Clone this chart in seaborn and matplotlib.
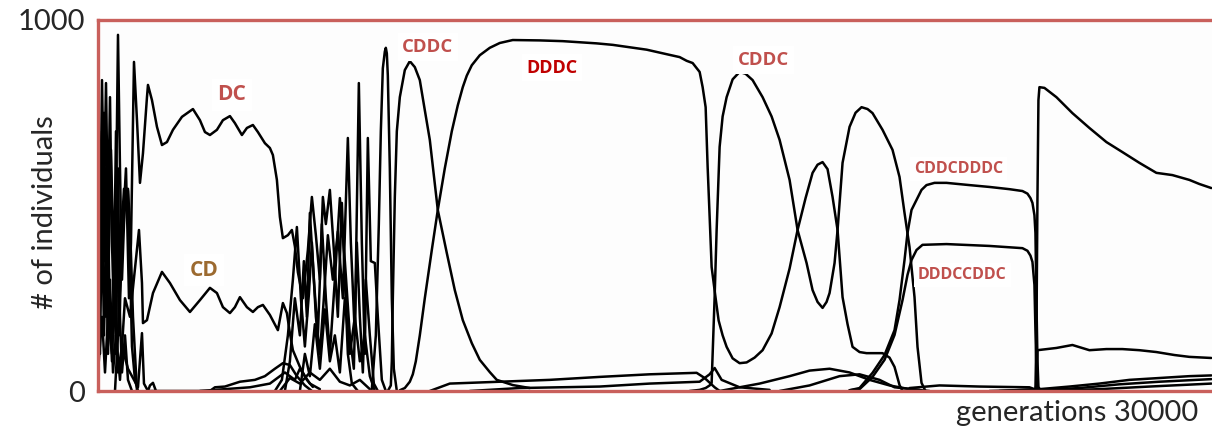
"""
Population dynamics of strategies over 30000 generations
(recreation of a scanned simulation plot)
"""

import numpy as np
import pandas as pd
import matplotlib
matplotlib.use("Agg")
import matplotlib.pyplot as plt
import seaborn as sns

# ============================================================================
# 1. DATA  (generations, number of individuals)
# ============================================================================

# --- early chaotic phase ----------------------------------------------------
dc_gen = [0, 54, 108, 162, 216, 270, 351, 432, 486, 567, 648, 756, 837, 891, 972, 1053, 1134, 1215,
          1323, 1350, 1458, 1593, 1728, 1863, 2025, 2268, 2565, 2754, 2889, 3024, 3213, 3375, 3564,
          3699, 3888, 4023, 4185, 4320, 4509, 4644, 4725, 4833, 4914, 4995, 5130, 5238, 5319, 5400,
          5535, 5670, 5778, 5886, 5994, 6075, 6156, 6264, 6372, 6480, 6588, 6669, 6750, 6858, 7020]
dc_val = [100, 500, 700, 350, 600, 250, 650, 300, 700, 150, 400, 600, 250, 400, 887, 730, 561, 641,
          792, 825, 784, 712, 663, 671, 704, 739, 760, 730, 698, 690, 704, 730, 741,
          722, 690, 709, 717, 698, 668, 655, 636, 569, 469, 412, 420, 434, 390, 320,
          250, 380, 523, 420, 300, 523, 450, 542, 380, 200, 507, 300, 100, 20, 0]

cd_gen = [0, 54, 108, 162, 216, 270, 324, 405, 486, 594, 729, 864, 999, 1107, 1188, 1215, 1323, 1485,
          1728, 1944, 2214, 2484, 2754, 3024, 3213, 3375, 3564, 3699, 3834, 4023, 4185, 4320, 4455,
          4644, 4860, 4995, 5103, 5184, 5265, 5454, 5643, 5805]
cd_val = [400, 100, 500, 150, 400, 100, 300, 50, 150, 30, 250, 200, 330, 434, 291, 183, 191, 264,
          321, 291, 245, 213, 245, 278, 264, 226, 210, 226, 253, 226, 213, 226, 232,
          205, 164, 237, 210, 156, 110, 65, 30, 11]

e1_gen = [0, 54, 108, 162, 216, 270, 324, 378, 432, 486, 540, 594, 648, 702, 756, 810, 864, 918, 999, 1080]
e1_val = [0, 400, 838, 500, 830, 450, 792, 400, 200, 500, 960, 600, 300, 450, 545, 545, 350, 120, 30, 0]

e2_gen = [0, 54, 108, 162, 216, 270, 324, 378, 432, 486, 540, 594, 648, 729, 810, 918]
e2_val = [200, 650, 300, 750, 200, 500, 150, 100, 300, 100, 600, 200, 50, 150, 30, 0]

e3_gen = [0, 108, 189, 297, 378, 459, 540, 648, 810, 1080, 1188, 1242, 1350, 1404, 1485, 1566]
e3_val = [50, 200, 50, 250, 80, 330, 50, 120, 60, 10, 156, 20, 0, 15, 22, 0]

e4_gen = [459, 567, 648, 702, 810, 864, 945, 1053]
e4_val = [0, 200, 450, 545, 540, 450, 200, 0]

# --- second chaotic phase ---------------------------------------------------
b_gen = [4779, 4968, 5130, 5265, 5373, 5481, 5589, 5697, 5778, 5886, 5994, 6102, 6210, 6345, 6480,
         6615, 6750, 6831, 6939, 7047, 7128, 7209, 7290, 7371, 7479, 7560, 7668, 7776]
b_val = [0, 30, 150, 300, 442, 250, 120, 260, 400, 200, 100, 250, 420, 300, 430,
         250, 682, 400, 150, 830, 400, 100, 682, 350, 345, 200, 30, 0]

c_gen = [5049, 5184, 5319, 5454, 5562, 5643, 5724, 5832, 5940, 6048, 6156, 6264, 6399, 6534, 6669,
         6804, 6912, 6993, 7074, 7155, 7236, 7344, 7452, 7560]
c_val = [0, 80, 250, 150, 350, 200, 480, 300, 150, 450, 250, 100, 300, 520, 350,
         150, 60, 400, 200, 50, 300, 150, 20, 0]

d_gen = [5454, 5589, 5724, 5859, 5994, 6129, 6264, 6399, 6534, 6669, 6804, 6939, 7074, 7209, 7344, 7479]
d_val = [0, 100, 40, 180, 60, 220, 80, 150, 50, 250, 100, 200, 80, 150, 40, 0]

spike_gen = [7398, 7506, 7587, 7641, 7695, 7749, 7776, 7803, 7830, 7884, 7938, 7992, 8073]
spike_val = [5, 150, 450, 700, 870, 915, 925, 910, 850, 600, 250, 60, 0]

# --- named strategies -------------------------------------------------------
cddc1_gen = [7830, 7911, 7938, 7965, 8019, 8073, 8154, 8289, 8424, 8559, 8694, 8829, 8964, 9180,
             9423, 9639, 9855, 10098, 10314, 10584, 10773, 11205, 11664]
cddc1_val = [0, 15, 80, 250, 523, 700, 792, 865, 889, 873, 838, 757, 677, 488,
             372, 272, 191, 129, 84, 51, 30, 16, 8]

dddc_gen = [8154, 8289, 8424, 8505, 8586, 8694, 8829, 9018, 9180, 9369, 9558, 9720, 9855, 9963,
            10098, 10314, 10584, 10854, 11205, 11934, 12555, 13473, 13905, 14823, 15444, 15714,
            15903, 16065, 16254, 16335, 16416, 16470, 16524, 16578, 16686, 16767, 16875, 16983,
            17145, 17334, 17523, 17739, 17955, 18198, 18414, 18684, 18900, 19116, 19305, 19440,
            19575, 19710, 19845, 19980, 20115, 20250, 20385, 20574, 20763, 20979, 21195, 21384,
            21519, 21654, 21735]
dddc_val = [2, 8, 25, 45, 80, 150, 250, 380, 488, 600, 700, 770, 819, 850,
            878, 905, 925, 938, 946, 945, 943, 937, 933, 920, 906, 900,
            890, 884, 860, 819, 765, 604, 470, 334, 250, 190, 150, 119,
            88, 75, 77, 90, 110, 155, 226, 330, 434, 520, 588, 610,
            617, 598, 523, 434, 253, 180, 119, 105, 102, 102, 102, 90,
            65, 16, 0]

cddc2_gen = [15984, 16254, 16416, 16524, 16578, 16659, 16713, 16794, 16875, 16983, 17145, 17334,
             17496, 17685, 17955, 18198, 18414, 18684, 18900, 19143, 19305, 19440, 19575, 19683,
             19764, 19899, 19980, 20115, 20304, 20466, 20628, 20790, 20925, 21195, 21465, 21654,
             21789, 21924, 22059, 22140, 22248, 22356]
cddc2_val = [0, 3, 8, 15, 22, 253, 434, 658, 740, 792, 840, 860,
             855, 838, 792, 740, 677, 569, 434, 345, 272, 240, 224, 240,
             264, 345, 434, 615, 712, 750, 765, 760, 749, 704, 650, 577,
             480, 388, 253, 119, 22, 0]

cddcdddc_gen = [20304, 20574, 20925, 21249, 21519, 21654, 21789, 21870, 21978, 22113, 22248, 22383,
                22599, 22923, 23544, 24084, 24624, 24975, 25110, 25191, 25245, 25299, 25326, 25353,
                25380, 25407, 25461]
cddcdddc_val = [2, 8, 49, 97, 164, 245, 353, 426, 488, 515, 542, 555,
                561, 561, 555, 550, 544, 539, 532, 520, 507, 474, 426, 245,
                84, 11, 2]

dddccddc_gen = [20304, 20574, 20925, 21249, 21519, 21735, 21870, 21978, 22113, 22275, 22923, 24084,
                24975, 25110, 25191, 25245, 25299, 25326, 25353, 25380, 25434]
dddccddc_val = [2, 5, 38, 84, 151, 245, 313, 353, 380, 394, 396, 391,
                385, 378, 365, 348, 286, 164, 57, 8, 0]

# --- final phase ------------------------------------------------------------
f1_gen = [24084, 25164, 25326, 25353, 25380, 25407, 25434, 25569, 25893, 26325, 26784, 27243,
          27675, 28134, 28593, 29025, 29484, 29754, 30078]
f1_val = [0, 3, 5, 150, 515, 784, 819, 817, 792, 749, 709, 671,
          644, 615, 588, 582, 569, 558, 547]

f2_gen = [24354, 25326, 25353, 25380, 25893, 26325, 26784, 27243, 27675, 28134, 28593, 29079, 29484, 30078]
f2_val = [0, 5, 16, 110, 116, 124, 110, 113, 113, 110, 105, 97, 92, 89]

# --- minor strategies near the floor ----------------------------------------
low_gen = {
    "la": [1404, 3024, 3159, 3429, 3834, 4239, 4509, 4779, 4995, 5184, 5373, 5589, 5778],
    "lb": [2754, 4104, 4644, 5049, 5319, 5454, 5724, 5994],
    "lc": [4914, 5184, 5454, 5724, 5994, 6264, 6534, 6804, 7074, 7344],
    "m1": [8964, 9504, 10854, 12204, 13554, 14904, 16173, 16389, 16659, 16794],
    "m2": [10044, 11394, 13554, 14904, 16254, 16524, 16659, 16848, 17334, 18144],
    "m3": [16794, 17874, 18684, 19224, 19764, 20304, 20844, 21384, 21924, 22464],
    "m4": [18414, 19224, 20034, 20574, 21114, 21519, 22194],
    "bb": [21924, 22734, 23814, 25164, 25434],
    "t1": [25434, 26244, 27054, 27864, 28674, 29484, 30078],
    "t2": [25434, 26514, 27594, 28674, 30078],
    "t3": [25704, 27054, 28404, 30078],
}
low_val = {
    "la": [0, 0, 10, 12, 25, 30, 40, 60, 75, 70, 40, 15, 0],
    "lb": [0, 10, 20, 50, 30, 60, 20, 5],
    "lc": [0, 35, 20, 50, 30, 60, 25, 15, 30, 5],
    "m1": [0, 20, 25, 30, 38, 45, 49, 35, 10, 0],
    "m2": [0, 8, 12, 20, 25, 45, 62, 30, 10, 3],
    "m3": [0, 20, 40, 55, 60, 50, 30, 15, 5, 0],
    "m4": [0, 15, 40, 45, 30, 10, 3],
    "bb": [8, 15, 12, 10, 0],
    "t1": [5, 12, 20, 30, 35, 40, 42],
    "t2": [2, 8, 18, 25, 32],
    "t3": [0, 5, 12, 20],
}

# labels: (text, generation, individuals, colour, size)
RED = "#c0504d"
labels = [
    ("DC", 3618, 798, RED, 15),
    ("CD", 2862, 326, "#9c6a30", 15),
    ("CDDC", 8910, 927, RED, 13.3),
    ("DDDC", 12258, 871, "#c00000", 13),
    ("CDDC", 17982, 892, RED, 13.3),
    ("CDDCDDDC", 23247, 598, RED, 11.5),
    ("DDDCCDDC", 23355, 313, RED, 11.5),
]

# ============================================================================
# 2. BUILD LONG TABLE
# ============================================================================

series = {
    "dc": (dc_gen, dc_val), "cd": (cd_gen, cd_val),
    "e1": (e1_gen, e1_val), "e2": (e2_gen, e2_val), "e3": (e3_gen, e3_val), "e4": (e4_gen, e4_val),
    "b": (b_gen, b_val), "c": (c_gen, c_val), "d": (d_gen, d_val), "spike": (spike_gen, spike_val),
    "cddc1": (cddc1_gen, cddc1_val), "dddc": (dddc_gen, dddc_val), "cddc2": (cddc2_gen, cddc2_val),
    "cddcdddc": (cddcdddc_gen, cddcdddc_val), "dddccddc": (dddccddc_gen, dddccddc_val),
    "f1": (f1_gen, f1_val), "f2": (f2_gen, f2_val),
}
for k in low_gen:
    series[k] = (low_gen[k], low_val[k])

frames = []
for name, (g, v) in series.items():
    frames.append(pd.DataFrame({"generation": g, "individuals": v, "strategy": name}))
df = pd.concat(frames, ignore_index=True)

# ============================================================================
# 3. PLOT
# ============================================================================

sns.set_style("white")
plt.rcParams["font.family"] = ["Lato", "DejaVu Sans"]

fig = plt.figure(figsize=(12.12, 4.32), dpi=100)
ax = fig.add_axes([98 / 1212, 41 / 432, 1116 / 1212, 371 / 432])
ax.set_facecolor("#fdfdfd")

sns.lineplot(data=df, x="generation", y="individuals", units="strategy", estimator=None,
             sort=False, color="black", lw=1.8, ax=ax, legend=False)
for ln in ax.get_lines():
    ln.set_solid_joinstyle("round")

ax.set_xlim(0, 30150)
ax.set_ylim(0, 1000)
ax.set_xticks([])
ax.set_yticks([0, 1000])
ax.set_yticklabels(["0", "1000"], fontsize=21)
ax.tick_params(axis="y", length=0, pad=9)
ax.set_xlabel("")
ax.set_ylabel("")

for s in ax.spines.values():
    s.set_color("#c9605c")
    s.set_linewidth(2.4)
    s.set_visible(True)

for txt, gx, gy, col, size in labels:
    ax.text(gx, gy, txt, color=col, fontsize=size, fontweight="bold", family="Open Sans",
            ha="center", va="center",
            bbox=dict(boxstyle="square,pad=0.25", fc="white", ec="none"), zorder=5)

fig.text(45 / 1212, 1 - 212 / 432, "# of individuals", rotation=90, fontsize=21,
         ha="center", va="center")
fig.text(1198 / 1212, 1 - 413 / 432, "generations 30000", fontsize=21, ha="right", va="center")

fig.savefig("out.png", dpi=100)
plt.close(fig)
